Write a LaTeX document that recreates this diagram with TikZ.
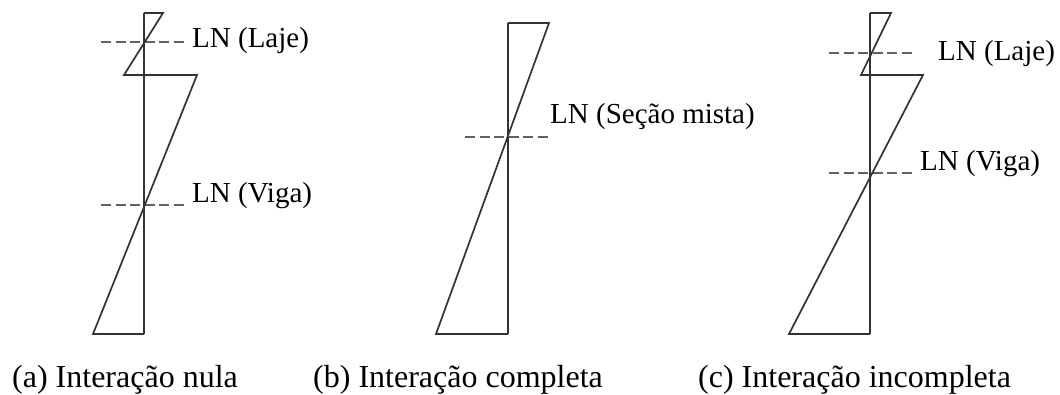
\documentclass[tikz,border=0pt]{standalone}
\usepackage{fontspec}
\setmainfont{Liberation Serif}
\begin{document}
\begin{tikzpicture}[x=1pt,y=-1pt,
  shape line/.style={draw=black!80, line width=1.7pt, line join=miter},
  ln line/.style={draw=black!62, line width=2.4pt, dash pattern=on 10pt off 4.5pt},
  lnlabel/.style={anchor=base west, inner sep=0pt, font=\fontsize{29}{32}\selectfont},
  caption/.style={anchor=base west, inner sep=0pt, font=\fontsize{32}{36}\selectfont}]
\useasboundingbox (0,0) rectangle (1060,394);

% (a) Interacao nula
\coordinate (a1) at (144,13);
\coordinate (a2) at (144,334);
\draw[ln line] (101,42) -- (184,42);
\draw[ln line] (101,205) -- (184,205);
\draw[shape line] (a1) -- (a2);
\draw[shape line] (a1) -- (163,13) -- (124,75) -- (197,75) -- (93,334) -- (a2);
\node[lnlabel] (laA) at (192,47) {LN (Laje)};
\node[lnlabel] (viA) at (192,202) {LN (Viga)};
\node[caption] (capA) at (12,387) {(a) Interação nula};

% (b) Interacao completa
\coordinate (b1) at (508,23);
\coordinate (b2) at (508,334);
\draw[ln line] (465,137) -- (548,137);
\draw[shape line] (b1) -- (b2);
\draw[shape line] (b1) -- (549,23) -- (436,334) -- (b2);
\node[lnlabel] (smB) at (550,123) {LN (Seção mista)};
\node[caption] (capB) at (313,387) {(b) Interação completa};

% (c) Interacao incompleta
\coordinate (c1) at (870,13);
\coordinate (c2) at (870,334);
\draw[ln line] (829,53) -- (912,53);
\draw[ln line] (829,173) -- (912,173);
\draw[shape line] (c1) -- (c2);
\draw[shape line] (c1) -- (891,13) -- (861,75) -- (923,75) -- (789,334) -- (c2);
\node[lnlabel] (laC) at (938,60) {LN (Laje)};
\node[lnlabel] (viC) at (920,170) {LN (Viga)};
\node[caption] (capC) at (698,387) {(c) Interação incompleta};
\end{tikzpicture}
\end{document}
